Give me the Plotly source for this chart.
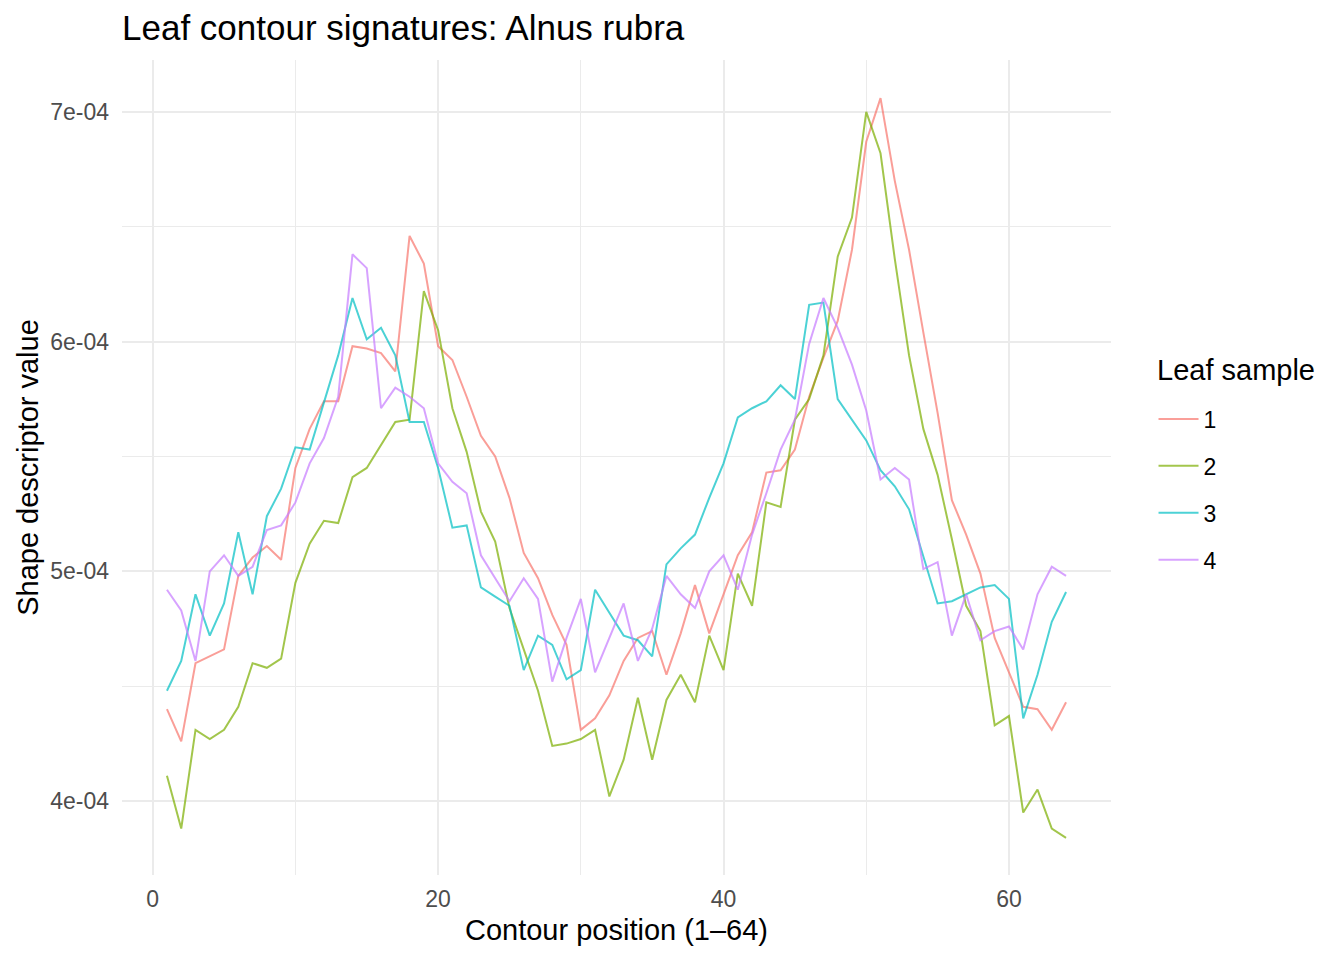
import plotly.graph_objects as go

# contour positions 1..64
position = list(range(1, 65))

# shape descriptor values (x 1e-6)
leaf_1 = [440, 426, 460, 463, 466, 498, 506, 511, 505, 545, 562, 574, 574, 598, 597, 595,
          587, 646, 634, 598, 592, 576, 559, 550, 532, 508, 497, 481, 468, 431, 436, 446,
          461, 471, 474, 455, 473, 494, 473, 490, 507, 517, 543, 544, 553, 576, 593, 609,
          640, 687, 706, 670, 640, 604, 569, 531, 516, 499, 471, 456, 441, 440, 431, 443]
leaf_2 = [411, 388, 431, 427, 431, 441, 460, 458, 462, 495, 512, 522, 521, 541, 545, 555,
          565, 566, 622, 605, 571, 552, 526, 513, 484, 466, 448, 424, 425, 427, 431, 402,
          418, 445, 418, 444, 455, 443, 472, 457, 499, 485, 530, 528, 566, 575, 594, 637,
          654, 700, 682, 636, 594, 562, 542, 514, 485, 474, 433, 437, 395, 405, 388, 384]
leaf_3 = [448, 461, 490, 472, 486, 517, 490, 524, 536, 554, 553, 574, 594, 619, 601, 606,
          594, 565, 565, 545, 519, 520, 493, 489, 485, 457, 472, 468, 453, 457, 492, 482,
          472, 470, 463, 503, 510, 516, 532, 547, 567, 571, 574, 581, 575, 616, 617, 575,
          566, 557, 544, 537, 527, 507, 486, 487, 490, 493, 494, 488, 436, 455, 478, 491]
leaf_4 = [492, 483, 461, 500, 507, 498, 502, 518, 520, 530, 547, 558, 576, 638, 632, 571,
          580, 576, 571, 547, 539, 534, 507, 497, 487, 497, 488, 452, 471, 488, 456, 471,
          486, 461, 475, 498, 490, 484, 500, 507, 492, 516, 534, 553, 566, 599, 619, 606,
          590, 570, 540, 545, 540, 501, 504, 472, 490, 470, 474, 476, 466, 490, 502, 498]

samples = ["1", "2", "3", "4"]
colors = ["#F8766D", "#7CAE00", "#00BFC4", "#C77CFF"]

y_ticks = [4e-4, 5e-4, 6e-4, 7e-4]
y_tick_labels = ["4e-04", "5e-04", "6e-04", "7e-04"]

fig = go.Figure()

for name, vals, col in zip(samples, [leaf_1, leaf_2, leaf_3, leaf_4], colors):
    fig.add_trace(go.Scatter(
        x=position,
        y=[v * 1e-6 for v in vals],
        mode="lines",
        name=name,
        legendgroup=name,
        line=dict(color=col, width=2),
        opacity=0.7,
    ))

# legend title as an annotation so the gap to the items can be set
fig.add_annotation(
    text="Leaf sample", font=dict(size=29, color="black"),
    xref="paper", yref="paper", x=1.0445, y=0.6196,
    xanchor="left", yanchor="middle", showarrow=False,
)

# page body has an 8px margin, so the figure is 8px smaller than the window
fig.update_layout(
    width=1336,
    height=952,
    paper_bgcolor="white",
    plot_bgcolor="white",
    font=dict(family="Liberation Sans, Arial, sans-serif", color="black"),
    title=dict(
        text="Leaf contour signatures: Alnus rubra",
        font=dict(size=35, color="black"),
        x=0, xref="paper", xanchor="left",
        y=0.979, yref="container", yanchor="middle",
    ),
    margin=dict(l=114, r=233, t=52, b=85),
    xaxis=dict(
        range=[-2.15, 67.15],
        tickvals=[0, 20, 40, 60],
        showgrid=True, gridcolor="#EBEBEB", gridwidth=2,
        minor=dict(tickvals=[10, 30, 50], showgrid=True, gridcolor="#EBEBEB", gridwidth=1),
        zeroline=False, showline=False, ticks="",
        ticklabelstandoff=8,
        tickfont=dict(size=23, color="#4D4D4D"),
        title=dict(text="Contour position (1–64)", font=dict(size=29), standoff=8),
    ),
    yaxis=dict(
        range=[3.678e-4, 7.226e-4],
        tickvals=y_ticks, ticktext=y_tick_labels,
        showgrid=True, gridcolor="#EBEBEB", gridwidth=2,
        minor=dict(tickvals=[4.5e-4, 5.5e-4, 6.5e-4], showgrid=True, gridcolor="#EBEBEB", gridwidth=1),
        zeroline=False, showline=False, ticks="",
        ticklabelstandoff=12,
        tickfont=dict(size=23, color="#4D4D4D"),
        title=dict(text="Shape descriptor value", font=dict(size=29), standoff=3),
    ),
    legend=dict(
        font=dict(size=23),
        x=1.043, xanchor="left",
        y=0.473, yanchor="middle",
        tracegroupgap=14,
        itemwidth=40,
        bgcolor="rgba(0,0,0,0)",
    ),
    showlegend=True,
)

fig.write_html("out.html")
